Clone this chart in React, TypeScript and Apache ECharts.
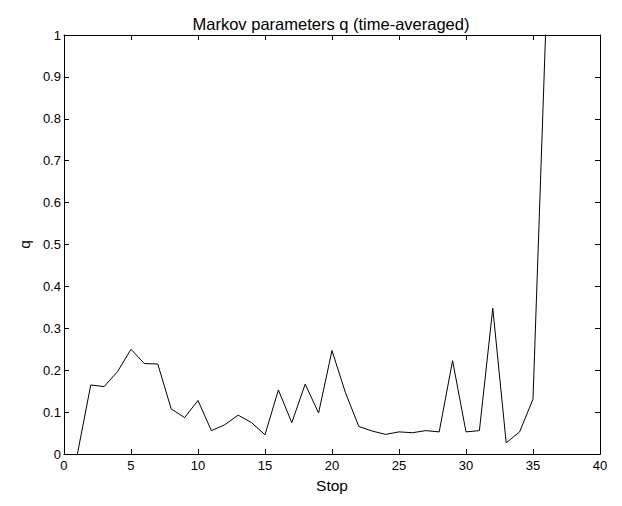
import React, { useEffect, useRef } from "react";
import * as echarts from "echarts";

const stops = [1, 2, 3, 4, 5, 6, 7, 8, 9, 10, 11, 12, 13, 14, 15, 16, 17, 18, 19, 20, 21, 22, 23, 24, 25, 26, 27, 28, 29, 30, 31, 32, 33, 34, 35, 36];
const qValues = [0, 0.165, 0.161, 0.197, 0.25, 0.216, 0.215, 0.108, 0.087, 0.128, 0.056, 0.07, 0.093, 0.075, 0.046, 0.153, 0.075, 0.167, 0.098, 0.247, 0.147, 0.066, 0.055, 0.047, 0.053, 0.051, 0.056, 0.053, 0.223, 0.053, 0.056, 0.348, 0.027, 0.053, 0.131, 1.06];

const FONT = "Liberation Sans";

export default function App() {
  const ref = useRef<HTMLDivElement>(null);
  useEffect(() => {
    if (!ref.current) return;
    const chart = echarts.init(ref.current, null, { renderer: "svg" });
    const axisCommon = {
      axisLine: { show: true, onZero: false, lineStyle: { color: "#000", width: 1 } },
      splitLine: { show: false },
    };
    const tick = { show: true, inside: true, length: 5, lineStyle: { color: "#000" } };
    chart.setOption({
      animation: false,
      backgroundColor: "#fff",
      textStyle: { fontFamily: FONT },
      title: {
        text: "Markov parameters q (time-averaged)",
        left: 318,
        textAlign: "center",
        top: 2,
        textStyle: { fontFamily: FONT, fontSize: 16.5, fontWeight: "normal", color: "#000" },
      },
      grid: { left: 44, right: 14, top: 27, bottom: 24, containLabel: false },
      xAxis: [
        {
          ...axisCommon,
          type: "value",
          min: 0,
          max: 40,
          interval: 5,
          position: "bottom",
          name: "Stop",
          nameLocation: "middle",
          nameGap: 16,
          nameTextStyle: { fontFamily: FONT, fontSize: 15.5, color: "#000" },
          axisTick: tick,
          axisLabel: { fontFamily: FONT, fontSize: 13, color: "#000", margin: 5 },
        },
        {
          ...axisCommon,
          type: "value",
          min: 0,
          max: 40,
          interval: 5,
          position: "top",
          axisTick: tick,
          axisLabel: { show: false },
        },
      ],
      yAxis: [
        {
          ...axisCommon,
          type: "value",
          min: 0,
          max: 1,
          interval: 0.1,
          position: "left",
          name: "q",
          nameLocation: "middle",
          nameGap: 28,
          nameTextStyle: { fontFamily: FONT, fontSize: 15.5, color: "#000" },
          axisTick: tick,
          axisLabel: { fontFamily: FONT, fontSize: 13, color: "#000", margin: 3 },
        },
        {
          ...axisCommon,
          type: "value",
          min: 0,
          max: 1,
          interval: 0.1,
          position: "right",
          axisTick: tick,
          axisLabel: { show: false },
        },
      ],
      series: [
        {
          type: "line",
          xAxisIndex: 0,
          yAxisIndex: 0,
          data: stops.map((s, i) => [s, qValues[i]]),
          showSymbol: false,
          symbol: "none",
          clip: true,
          lineStyle: { color: "#000", width: 1 },
        },
      ],
    });
    return () => chart.dispose();
  }, []);
  return <div ref={ref} style={{ width: 606, height: 490 }} />;
}
